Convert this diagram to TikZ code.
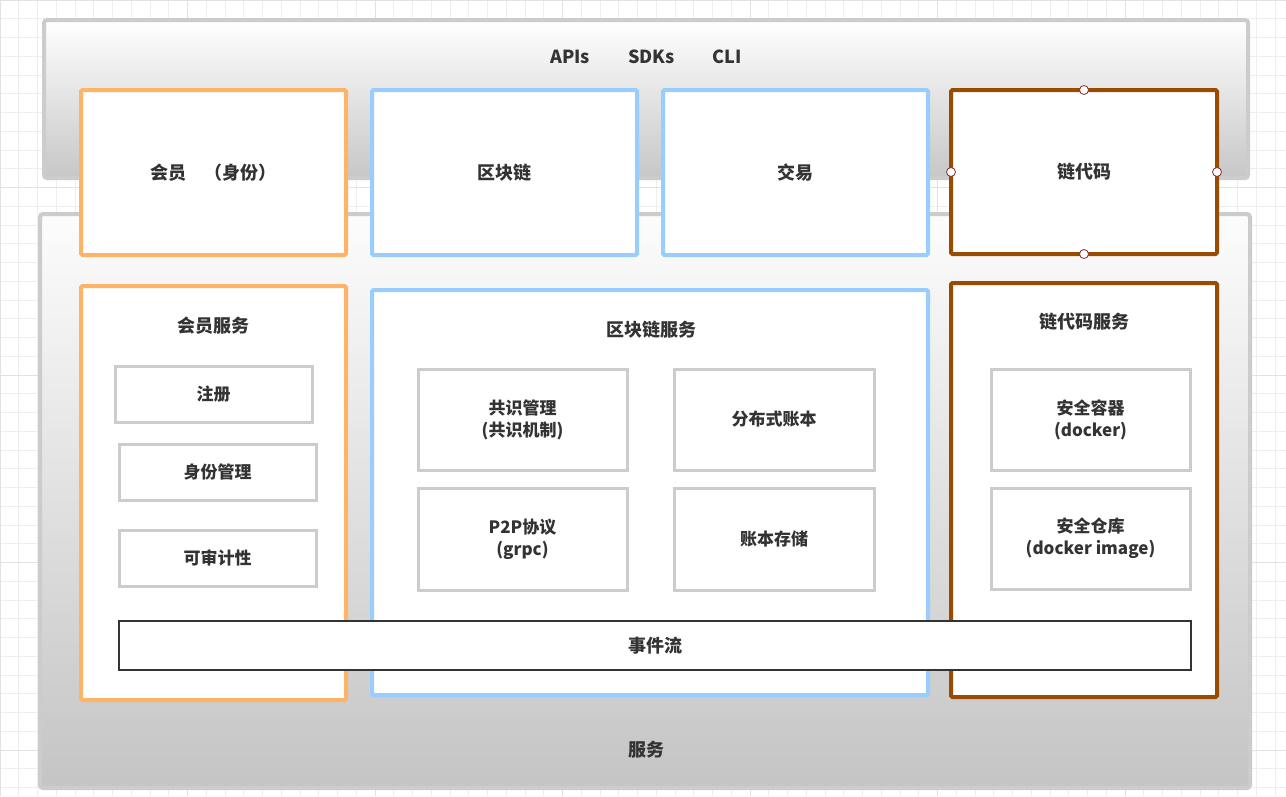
\documentclass[tikz,border=0pt]{standalone}
\usepackage{fontspec}
\setmainfont{Noto Sans CJK SC}
\usetikzlibrary{shadings}
\definecolor{gridc}{HTML}{EEEEEE}
\definecolor{gridm}{HTML}{E2E2E2}
\definecolor{panelb}{HTML}{CCCCCC}
\definecolor{orangec}{HTML}{FFB366}
\definecolor{bluec}{HTML}{99CCFF}
\definecolor{brownc}{HTML}{994C00}
\definecolor{txt}{HTML}{333333}
\definecolor{handlec}{HTML}{8B2C2C}
\tikzset{
  panel/.style={draw=panelb, line width=4pt, rounded corners=3pt},
  bigbox/.style={draw=#1, line width=4pt, fill=white, rounded corners=1.5pt, outer sep=0pt, text=txt, font=\fontsize{18}{22}\selectfont\bfseries},
  subbox/.style={draw=panelb, line width=3pt, fill=white, text=txt, align=center, font=\fontsize{17}{22}\selectfont\bfseries},
  title/.style={text=txt, font=\fontsize{18}{22}\selectfont\bfseries},
  handle/.style={circle, draw=handlec, fill=white, line width=0.8pt, minimum size=9pt, inner sep=0pt},
}
\begin{document}
\begin{tikzpicture}[x=1pt,y=-1pt]
\useasboundingbox (0,0) rectangle (1286,796);
\fill[white] (0,0) rectangle (1286,796);
% grid
\foreach \i in {0,...,68} {
  \pgfmathsetmacro{\xx}{18.75*\i}
  \draw[gridc, line width=0.8pt] (\xx,0) -- (\xx,796);
}
\foreach \i in {0,...,42} {
  \pgfmathsetmacro{\yy}{18.75*\i}
  \draw[gridc, line width=0.8pt] (0,\yy) -- (1286,\yy);
}
\foreach \i in {0,10,...,60} {
  \pgfmathsetmacro{\xx}{18.75*\i}
  \draw[gridm, line width=0.8pt] (\xx,0) -- (\xx,796);
}
\foreach \i in {0,10,...,40} {
  \pgfmathsetmacro{\yy}{18.75*\i}
  \draw[gridm, line width=0.8pt] (0,\yy) -- (1286,\yy);
}
% panels
\node (toppanel) [panel, top color=white, bottom color=black!22, minimum width=1204pt, minimum height=158pt] at (646,99) {};
\node (botpanel) [panel, top color=black!1, bottom color=black!23, minimum width=1210pt, minimum height=574pt] at (645,501) {};
\node (apis) [title] at (646,57) {APIs\hspace{38pt}SDKs\hspace{38pt}CLI};
\node (fuwu) [title] at (646,750) {服务};
% top row
\node (member) [bigbox=orangec, minimum width=265pt, minimum height=165pt] at (213.5,172.5) {会员\hspace{1em}（身份）};
\node (chain) [bigbox=bluec, minimum width=265pt, minimum height=165pt] at (504.5,172.5) {区块链};
\node (tx) [bigbox=bluec, minimum width=265pt, minimum height=165pt] at (795.5,172.5) {交易};
\node (cc) [bigbox=brownc, minimum width=266pt, minimum height=164pt] at (1084,172) {链代码};
\node [handle] at (cc.north) {};
\node [handle] at (cc.south) {};
\node [handle] at (cc.west) {};
\node [handle] at (cc.east) {};
% second row
\node (memsvc) [bigbox=orangec, minimum width=265pt, minimum height=414pt] at (213.5,493) {};
\node (memsvct) [title] at (213.5,326) {会员服务};
\node (reg) [subbox, minimum width=197pt, minimum height=56pt] at (213.5,394) {注册};
\node (idm) [subbox, minimum width=197pt, minimum height=56pt] at (217.5,472) {身份管理};
\node (audit) [subbox, minimum width=197pt, minimum height=56pt] at (217.5,558) {可审计性};

\node (chsvc) [bigbox=bluec, minimum width=556pt, minimum height=405pt] at (650,492.5) {};
\node (chsvct) [title] at (651,330) {区块链服务};
\node (cons) [subbox, minimum width=209pt, minimum height=101pt] at (522.5,419.5) {共识管理\\(共识机制)};
\node (ledger) [subbox, minimum width=200pt, minimum height=101pt] at (774,419.5) {分布式账本};
\node (p2p) [subbox, minimum width=209pt, minimum height=102pt] at (522.5,539) {P2P协议\\(grpc)};
\node (store) [subbox, minimum width=200pt, minimum height=102pt] at (774,539) {账本存储};

\node (ccsvc) [bigbox=brownc, minimum width=266pt, minimum height=414pt] at (1084,490) {};
\node (ccsvct) [title] at (1084,322) {链代码服务};
\node (cont) [subbox, minimum width=199pt, minimum height=101pt] at (1090.5,419.5) {安全容器\\(docker)};
\node (repo) [subbox, minimum width=199pt, minimum height=101pt] at (1090.5,538.5) {安全仓库\\(docker image)};

\node (event) [draw=txt, line width=1.5pt, fill=white, text=txt, font=\fontsize{18}{22}\selectfont\bfseries, minimum width=1072pt, minimum height=49pt] at (655,645.5) {事件流};
\end{tikzpicture}
\end{document}
